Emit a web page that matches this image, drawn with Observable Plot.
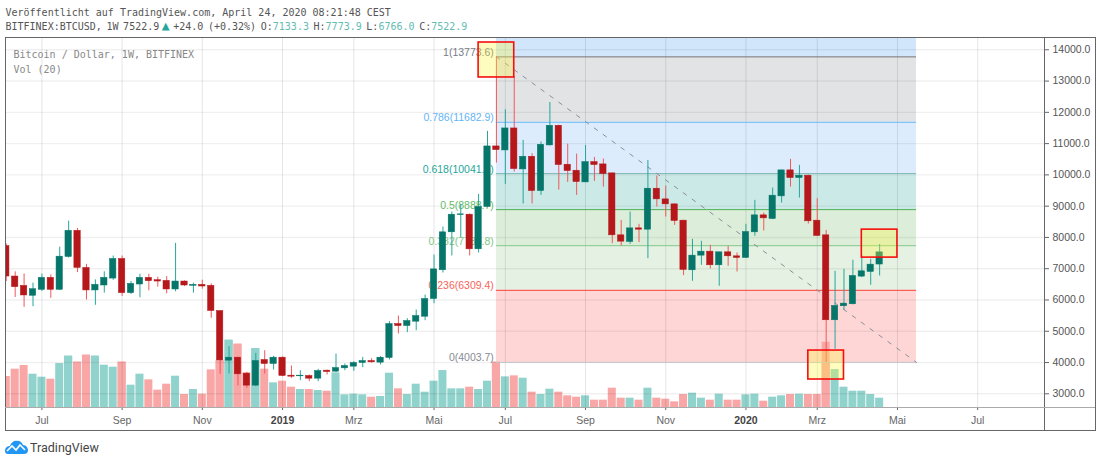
<!DOCTYPE html>
<html>
<head>
<meta charset="utf-8">
<script src="https://cdn.jsdelivr.net/npm/d3@7"></script>
<script src="https://cdn.jsdelivr.net/npm/@observablehq/plot@0.6"></script>
<style>
html,body{margin:0;padding:0;background:#fff;width:1100px;height:462px;overflow:hidden}
#page{position:relative;width:1100px;height:462px}
#head{height:37px;font:10px "DejaVu Sans Mono",monospace;color:#555;box-sizing:border-box;position:relative}
#head div{position:absolute;left:5.5px;white-space:pre}
#l1{top:7px}
#l2{top:21px;word-spacing:-1.4px}
#head b{font-weight:normal;color:#62bcb2}
#head i{font-style:normal;color:#26a69a;font-size:13px;line-height:10px;display:inline-block;width:9px;margin:0 3px 0 2px;text-align:center}
#chart svg{display:block}
.line{position:absolute;background:#666}
.pane{position:absolute;left:13.5px;font:10px "DejaVu Sans Mono",monospace;color:#888;white-space:pre}
#foot{position:absolute;left:5px;top:438px;height:18px;display:flex;align-items:center;gap:2px;font:12.5px Roboto,sans-serif;color:#444}
</style>
</head>
<body>
<div id="page">
<div id="head">
<div id="l1">Veröffentlicht auf TradingView.com, April 24, 2020 08:21:48 CEST</div>
<div id="l2">BITFINEX:BTCUSD, 1W 7522.9<i>▲</i>+24.0 (+0.32%) O:<b>7133.3</b> H:<b>7773.9</b> L:<b>6766.0</b> C:<b>7522.9</b></div>
</div>
<div id="chart"></div>
<div class="pane" style="top:49px">Bitcoin / Dollar, 1W, BITFINEX</div>
<div class="pane" style="top:64px">Vol (20)</div>
<div class="line" style="left:5px;top:37px;width:1090px;height:1px"></div>
<div class="line" style="left:5px;top:430px;width:1090px;height:1px"></div>
<div class="line" style="left:5px;top:37px;width:1px;height:393px"></div>
<div class="line" style="left:1095px;top:37px;width:1px;height:394px"></div>
<div class="line" style="left:1044px;top:37px;width:1px;height:393px"></div>
<div class="line" style="left:5px;top:407px;width:1090px;height:1px;background:#aaa"></div>
<div id="foot">
<svg width="23" height="14" viewBox="0 0 23 14"><path d="M0 11 C0 7 3 6 5 6 C6 2 10 0 12 1 C15 0 17 3 18 5 C21 5 23 8 23 10 C23 13 21 14 19 14 L3 14 C1 14 0 13 0 11Z" fill="#2196f3"/><path d="M2 11 L7 6 L11 10 L15 5 L20 10" fill="none" stroke="#fff" stroke-width="1.6"/></svg>
<span>TradingView</span>
</div>
</div>
<script>
// Weekly bars, the first one is the week of 4 June 2018
const firstWeek = "2018-06-04";
const opens = [7724,6750,6450,6135,6325,6707,6325,7375,8212,7025,6305,6463,6685,7310,6219,6495,6707,6633,6611,6336,6590,6452,6484,6452,5647,4060,4155,3644,3261,4081,3953,4155,3580,3559,3570,3484,3740,3708,3814,3868,3985,4049,3996,4145,5231,5167,5306,5465,6030,6950,8163,8716,8727,7620,8972,10910,10782,11485,10175,10580,9483,10942,11571,10325,10133,9760,10410,10335,10048,8067,7854,8290,8248,9558,9217,9057,8536,6949,7418,7545,7109,7524,7396,7343,8163,8706,8589,9313,10144,9899,9974,8536,8067,5351,5799,5863,6747,6896,7133.3];
const highs = [7790,6900,6830,6540,6830,6800,7690,8520,8290,7140,6643,6900,7406,7406,6590,6823,6823,6728,6749,7809,6611,6537,6633,6516,5647,4507,4170,3687,4294,4379,4200,4180,3889,3740,3600,3783,3760,4272,3953,4027,4166,4123,4187,5306,5487,5401,5678,6158,7436,8333,8812,9057,8750,9377,11390,13773.6,12082,13150,11102,10676,11050,12316,11590,10985,10665,10942,10559,10505,10060,8546,8812,8418,10463,9962,9643,9070,8550,7939,7876,7748,7524,7716,7503,8419,9185,8781,9580,10150,10495,10304,9990,9239,8227,6917,6981,7269,7428,7300,7773.9];
const lows = [6590,6080,5765,5785,6270,6050,6300,7340,6875,6000,5830,6220,6630,6113,6177,6070,6293,6410,6198,6262,6431,6219,6346,5414,3622,3633,3250,3175,3230,3633,3760,3548,3495,3420,3388,3388,3602,3680,3740,3719,3836,3980,3921,4081,4913,4955,5018,5337,5881,6863,7407,7990,7407,7502,8950,10378,9696,10090,9068,9068,9345,10930,9515,9760,9345,9750,9792,9611,7800,7726,7779,7832,7321,8972,8653,8386,6778,6598,7109,6992,6438,7077,6896,7330,8035,8206,8570,9100,9611,9260,8429,8040,4004,4425,5671,5840,6715,6470,6766];
const closes = [6750,6410,6145,6345,6707,6325,7385,8212,7025,6305,6484,6707,7310,6219,6516,6707,6600,6590,6336,6590,6463,6484,6431,5647,4067,4155,3623,3261,4049,3953,4155,3570,3548,3580,3484,3729,3697,3825,3889,3985,4049,4006,4155,5231,5167,5327,5487,6030,6978,8163,8727,8738,7620,8972,10910,10793,11485,10186,10580,9483,10963,11571,10314,10122,9771,10410,10314,10026,8067,7865,8290,8248,9558,9217,9057,8525,6960,7418,7545,7109,7524,7396,7343,8174,8706,8610,9335,10144,9899,9974,8515,8046,5351,5809,5884,6768,6917,7130,7522.9];
const volumes = [93,115,126,100,91,85,132,154,136,157,154,127,121,136,67,100,83,52,70,94,39,54,40,113,140,202,190,104,177,115,74,79,61,54,54,51,49,104,38,40,38,31,33,103,56,39,70,46,79,111,56,56,61,54,79,136,92,95,88,46,39,55,46,35,31,35,22,22,58,28,28,22,58,28,25,17,39,43,28,22,40,22,22,38,40,19,31,35,39,40,39,39,196,114,61,49,49,39,28];

// Price axis and time axis
const priceTicks = [3000,4000,5000,6000,7000,8000,9000,10000,11000,12000,13000,14000];
const monthDates = ["2018-07-02","2018-09-03","2018-11-05","2019-03-04","2019-05-06","2019-07-01","2019-09-02","2019-11-04","2020-03-02","2020-05-04","2020-07-06"];
const monthLabels = ["Jul","Sep","Nov","Mrz","Mai","Jul","Sep","Nov","Mrz","Mai","Jul"];
const yearDates = ["2019-01-07","2020-01-06"];
const yearLabels = ["2019","2020"];
const xStart = "2018-06-03T19:00Z", xEnd = "2020-08-27T12:00Z";
const priceMin = 2562, priceMax = 14377;
const volumeUnit = 10.65;

// Fibonacci drawing
const fibStart = "2019-06-24", fibEnd = "2020-05-19";
const fibRatios = ["1","0.786","0.618","0.5","0.382","0.236","0"];
const fibPrices = [13773.6,11682.9,10041.5,8888.7,7735.8,6309.4,4003.7];
const fibLines = ["#70737a","#64b5f6","#7fb9b4","#4caf50","#81c784","#f44336","#c3c4ca"];
const fibLabels = ["#787b86","#64b5f6","#26a69a","#66bb6a","#81c784","#f8645c","#888b95"];
const zoneTops = [14377,13773.6,11682.9,10041.5,8888.7,7735.8,6309.4];
const zoneBottoms = [13773.6,11682.9,10041.5,8888.7,7735.8,6309.4,4003.7];
const zoneFills = ["#d1e6fb","#e2e3e5","#dcecfc","#cbe9e7","#dceeda","#e5f2e3","#ffd6d6"];

// Highlight boxes
const boxStarts = ["2019-06-10","2020-04-06","2020-02-24"];
const boxEnds = ["2019-07-08","2020-05-04","2020-03-23"];
const boxTops = [14233,8249,4383];
const boxBottoms = [13115,7355,3457];

const DAY = 864e5;
const parse = s => new Date(s);
const t0 = +parse(firstWeek);
const bars = opens.map((o,i)=>({
  date:new Date(t0+i*7*DAY), o, h:highs[i], l:lows[i], c:closes[i], v:volumes[i], up:closes[i]>=o
}));
const shift = (d,n)=>new Date(+d+n*DAY);
const zones = zoneFills.map((fill,i)=>({fill,y1:zoneTops[i],y2:zoneBottoms[i]}));
const levels = fibPrices.map((p,i)=>({p,stroke:fibLines[i],color:fibLabels[i],text:`${fibRatios[i]}(${p.toFixed(1)})`}));
const boxes = boxStarts.map((s,i)=>({x1:parse(s),x2:parse(boxEnds[i]),y1:boxTops[i],y2:boxBottoms[i]}));
const fx1 = parse(fibStart), fx2 = parse(fibEnd);
const tickLabel = (dates,labels)=>d=>labels[dates.findIndex(s=>+parse(s)===+d)];

const chart = Plot.plot({
  width:1100, height:393,
  marginLeft:5.5, marginRight:56, marginTop:0.5, marginBottom:23,
  style:{background:"transparent",fontFamily:"'Liberation Sans',sans-serif",overflow:"visible"},
  x:{type:"utc",domain:[parse(xStart),parse(xEnd)],label:null},
  y:{domain:[priceMin,priceMax],label:null},
  marks:[
    // volume pane
    Plot.rect(bars,{clip:true,x1:d=>shift(d.date,-3.15),x2:d=>shift(d.date,3.15),y1:priceMin,y2:d=>priceMin+d.v*volumeUnit,fill:d=>d.up?"#90d3cc":"#f9a6a6"}),
    // fibonacci zones
    Plot.rect(zones,{x1:fx1,x2:fx2,y1:"y1",y2:"y2",fill:"fill"}),
    // volume bars that reach into the lowest zone
    Plot.rect(bars.filter(d=>priceMin+d.v*volumeUnit>fibPrices[6]),{x1:d=>shift(d.date,-3.15),x2:d=>shift(d.date,3.15),y1:priceMin,y2:d=>priceMin+d.v*volumeUnit,fill:d=>d.up?"#90d3cc":"#f9a6a6"}),
    // grid
    Plot.ruleY(priceTicks,{stroke:"#000",strokeOpacity:0.06,strokeWidth:1.4}),
    Plot.ruleX(monthDates.concat(yearDates).map(parse),{stroke:"#000",strokeOpacity:0.1}),
    // fibonacci levels
    Plot.ruleY(levels,{y:"p",x1:fx1,x2:fx2,stroke:"stroke"}),
    Plot.line([[fx1,fibPrices[0]],[fx2,fibPrices[6]]],{stroke:"#8a8f98",strokeDasharray:"4 7",strokeWidth:1}),
    Plot.text(levels,{x:shift(fx1,-2),y:"p",text:"text",fill:"color",textAnchor:"end",lineAnchor:"bottom",dy:-1,fontSize:10.5}),
    // candles
    Plot.ruleX(bars,{clip:true,x:"date",y1:"l",y2:"h",stroke:d=>d.up?"#26a69a":"#f0585a"}),
    Plot.rect(bars,{clip:true,x1:d=>shift(d.date,-2.5),x2:d=>shift(d.date,2.5),y1:"o",y2:"c",fill:d=>d.up?"#06766a":"#b5171b",stroke:d=>d.up?"#06766a":"#b5171b",strokeWidth:0.5}),
    // boxes
    Plot.rect(boxes,{x1:"x1",x2:"x2",y1:"y1",y2:"y2",fill:"#fff53b",fillOpacity:0.32,stroke:"#f50f0f",strokeWidth:1.6}),
    // axes
    Plot.axisY({anchor:"right",ticks:priceTicks,tickFormat:d3.format(".1f"),tickSize:4,tickPadding:4,fontSize:10.5,stroke:"#666",fill:"#555",label:null}),
    Plot.axisX({anchor:"bottom",ticks:monthDates.map(parse),tickFormat:tickLabel(monthDates,monthLabels),tickSize:3,tickPadding:6,fontSize:10.5,stroke:"#666",fill:"#666",label:null}),
    Plot.axisX({anchor:"bottom",ticks:yearDates.map(parse),tickFormat:tickLabel(yearDates,yearLabels),tickSize:3,tickPadding:6,fontSize:10.5,fontWeight:600,stroke:"#666",fill:"#444",label:null})
  ]
});
document.getElementById("chart").appendChild(chart);
</script>
</body>
</html>
